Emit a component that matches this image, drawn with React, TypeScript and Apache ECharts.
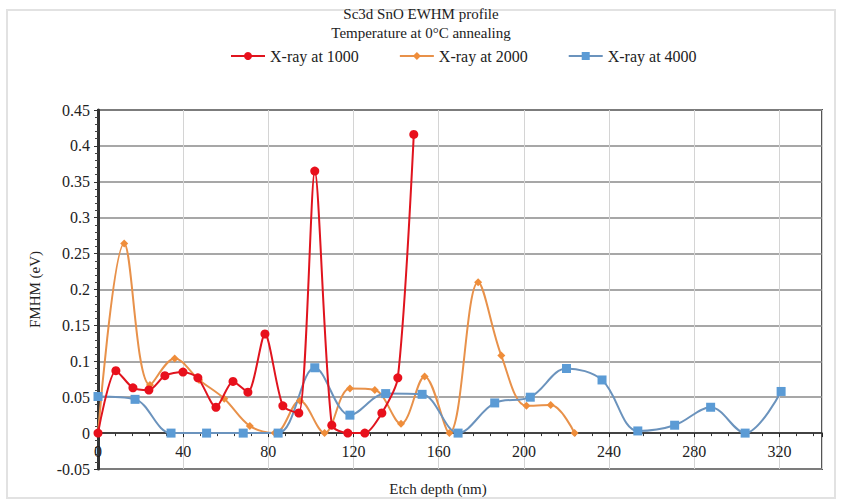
import React, { useEffect, useRef } from "react";
import * as echarts from "echarts";

// Etch depth (nm) and FWHM (eV) for each X-ray dose
const depth1000 = [0, 8.4, 16.4, 23.9, 31.4, 39.9, 46.9, 55.4, 63.4, 70.4, 78.4, 86.8, 94.3, 101.8, 109.8, 117.3, 125.3, 133.3, 140.8, 148.3];
const fwhm1000 = [0, 0.087, 0.063, 0.06, 0.08, 0.085, 0.077, 0.036, 0.072, 0.057, 0.138, 0.038, 0.028, 0.365, 0.011, 0, 0, 0.028, 0.077, 0.416];

const depth2000 = [0, 12.3, 24.4, 36, 47.5, 59.3, 71.3, 83, 94.8, 106.4, 118.3, 130, 142.3, 153.4, 165, 178.5, 189.4, 201.2, 212.6, 223.8];
const fwhm2000 = [0, 0.264, 0.067, 0.104, 0.074, 0.048, 0.01, 0, 0.045, 0, 0.062, 0.06, 0.013, 0.079, 0, 0.21, 0.108, 0.038, 0.039, 0];

const depth4000 = [0, 17.4, 34.3, 51, 68.2, 84.6, 101.8, 118.3, 135.1, 152.2, 169.1, 186.3, 203, 220, 236.7, 253.5, 270.8, 287.7, 303.9, 320.8];
const fwhm4000 = [0.051, 0.047, 0, 0, 0, 0, 0.091, 0.025, 0.055, 0.054, 0, 0.042, 0.05, 0.09, 0.074, 0.003, 0.011, 0.036, 0, 0.058];

const seriesNames = ["X-ray at 1000", "X-ray at 2000", "X-ray at 4000"];
const xTicks = { min: 0, max: 340, interval: 40 };
const yTicks = { min: -0.05, max: 0.45, interval: 0.05 };

const FONT = "Liberation Serif";

const pairs = (xs: number[], ys: number[]) => xs.map((x, i) => [x, ys[i]]);

export default function App() {
  const ref = useRef<HTMLDivElement>(null);

  useEffect(() => {
    if (!ref.current) return;
    const chart = echarts.init(ref.current, undefined, { renderer: "svg" });
    chart.setOption({
      animation: false,
      backgroundColor: "#ffffff",
      textStyle: { fontFamily: FONT, color: "#222" },
      title: {
        text: "Sc3d SnO EWHM profile\nTemperature at 0°C annealing",
        left: "center",
        top: 4,
        padding: 0,
        textStyle: { fontFamily: FONT, fontSize: 15, fontWeight: "normal", color: "#222", lineHeight: 19 },
      },
      legend: {
        top: 43,
        left: 225,
        itemGap: 40,
        itemWidth: 34,
        itemHeight: 10,
        textStyle: { fontFamily: FONT, fontSize: 16, color: "#222" },
        data: seriesNames,
      },
      graphic: [
        {
          type: "rect",
          shape: { x: 7, y: 10, width: 828, height: 488 },
          style: { fill: "none", stroke: "#e2e2e2", lineWidth: 2 },
          silent: true,
        },
        {
          type: "text",
          x: 438,
          y: 489,
          style: { text: "Etch depth (nm)", font: `15px ${FONT}`, fill: "#222", align: "center", verticalAlign: "middle" },
        },
      ],
      grid: { left: 98, right: 20, top: 110, bottom: 34, show: true, borderColor: "#555", borderWidth: 2 },
      xAxis: {
        type: "value",
        min: xTicks.min,
        max: xTicks.max,
        interval: xTicks.interval,
        axisLine: { onZero: true, lineStyle: { color: "#222", width: 1.5 } },
        axisTick: { show: true, length: 4, lineStyle: { color: "#222" } },
        minorTick: { show: true, splitNumber: 5, length: 3, lineStyle: { color: "#333" } },
        axisLabel: {
          fontFamily: FONT,
          fontSize: 16,
          color: "#222",
          margin: -26,
          showMaxLabel: false,
          formatter: (v: number) => (v > 320 ? "" : String(v)),
        },
        splitLine: { show: true, lineStyle: { color: "#d4d4d4", width: 1 } },
      },
      yAxis: {
        type: "value",
        min: yTicks.min,
        max: yTicks.max,
        interval: yTicks.interval,
        name: "FMHM (eV)",
        nameLocation: "middle",
        nameGap: 56,
        nameTextStyle: { fontFamily: FONT, fontSize: 15, color: "#222" },
        axisLine: { show: true, lineStyle: { color: "#333", width: 3 } },
        axisTick: { show: true, length: 4, lineStyle: { color: "#333" } },
        minorTick: { show: true, splitNumber: 5, length: 3, lineStyle: { color: "#444" } },
        axisLabel: {
          fontFamily: FONT,
          fontSize: 16,
          color: "#222",
          margin: 8,
          formatter: (v: number) => String(+v.toFixed(2)),
        },
        splitLine: { show: true, lineStyle: { color: "#8a8a8a", width: 1.5 } },
      },
      series: [
        {
          name: seriesNames[0],
          type: "line",
          data: pairs(depth1000, fwhm1000),
          smooth: 0.25,
          symbol: "circle",
          symbolSize: 9,
          lineStyle: { color: "#e0141e", width: 2 },
          itemStyle: { color: "#e8101c" },
          z: 3,
        },
        {
          name: seriesNames[1],
          type: "line",
          data: pairs(depth2000, fwhm2000),
          smooth: 0.35,
          symbol: "diamond",
          symbolSize: 8,
          lineStyle: { color: "#e8914a", width: 2 },
          itemStyle: { color: "#ef8d3a" },
          z: 2,
        },
        {
          name: seriesNames[2],
          type: "line",
          data: pairs(depth4000, fwhm4000),
          smooth: 0.35,
          symbol: "rect",
          symbolSize: 9,
          lineStyle: { color: "#6b93bd", width: 2 },
          itemStyle: { color: "#5b9bd5" },
          z: 2,
        },
      ],
    });
    return () => chart.dispose();
  }, []);

  return <div ref={ref} style={{ position: "absolute", left: 0, top: 0, width: 842, height: 503 }} />;
}
